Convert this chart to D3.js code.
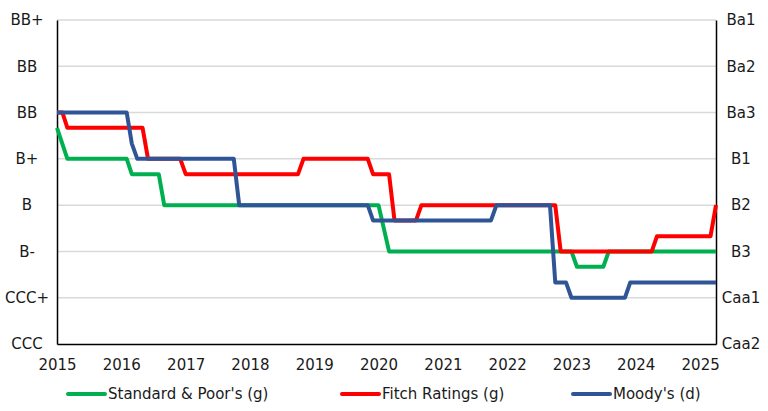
<!DOCTYPE html>
<html>
<head>
<meta charset="utf-8">
<script src="https://cdn.jsdelivr.net/npm/d3@7"></script>
<style>
  body { margin: 0; background: #fff; }
  svg text { font-family: 'DejaVu Sans', sans-serif; font-size: 15px; fill: #1a1a1a; }
</style>
</head>
<body>
<svg id="chart" width="768" height="411"></svg>
<script>
// rating notches, 0 = lowest
var leftLabels = ['CCC', 'CCC+', 'B-', 'B', 'B+', 'BB', 'BB', 'BB+']
var rightLabels = ['Caa2', 'Caa1', 'B3', 'B2', 'B1', 'Ba3', 'Ba2', 'Ba1']
var yearTicks = [2015, 2016, 2017, 2018, 2019, 2020, 2021, 2022, 2023, 2024, 2025]

// breakpoints of each series (month, notch)
var spDates = ['2015-01', '2015-03', '2016-02', '2016-03', '2016-08', '2016-09', '2020-01', '2020-03', '2023-01', '2023-02', '2023-07', '2023-08', '2025-04']
var spValues = [4.67, 4, 4, 3.67, 3.67, 3, 3, 2, 2, 1.67, 1.67, 2, 2]

var fitchDates = ['2015-01', '2015-02', '2015-03', '2016-05', '2016-06', '2016-12', '2017-01', '2018-10', '2018-11', '2019-11', '2019-12', '2020-03', '2020-04', '2020-08', '2020-09', '2022-10', '2022-11', '2024-04', '2024-05', '2025-03', '2025-04']
var fitchValues = [5, 5, 4.67, 4.67, 4, 4, 3.67, 3.67, 4, 4, 3.67, 3.67, 2.67, 2.67, 3, 3, 2, 2, 2.33, 2.33, 3]

var moodysDates = ['2015-01', '2016-02', '2016-03', '2016-04', '2017-10', '2017-11', '2019-11', '2019-12', '2021-10', '2021-11', '2022-09', '2022-10', '2022-12', '2023-01', '2023-11', '2023-12', '2025-04']
var moodysValues = [5, 5, 4.33, 4, 4, 3, 3, 2.67, 2.67, 3, 3, 1.33, 1.33, 1, 1, 1.33, 1.33]

var seriesNames = ["Standard & Poor's (g)", 'Fitch Ratings (g)', "Moody's (d)"]

var green = '#00b050', red = '#ff0000', blue = '#2f5597'

var parse = d3.timeParse('%Y-%m')
function pairs(dates, values) {
    return dates.map((d, i) => ({ date: parse(d), value: values[i] }))
}

var series = [
    { name: seriesNames[0], color: green, data: pairs(spDates, spValues) },
    { name: seriesNames[1], color: red, data: pairs(fitchDates, fitchValues) },
    { name: seriesNames[2], color: blue, data: pairs(moodysDates, moodysValues) }
]

var plotLeft = 57, plotRight = 716, plotTop = 20, plotBottom = 344

var svg = d3.select('#chart')

var xScale = d3.scaleTime().domain([parse('2015-01'), parse('2025-04')]).range([plotLeft, plotRight])
var yScale = d3.scaleLinear().domain([0, 7]).range([plotBottom, plotTop])

// grid
svg.append('g').selectAll('line')
    .data(d3.range(1, 8))
    .enter()
    .append('line')
    .attr('x1', plotLeft).attr('x2', plotRight)
    .attr('y1', d => yScale(d)).attr('y2', d => yScale(d))
    .style('stroke', '#d9d9d9')
    .style('stroke-width', 1.5)

// y axes
var yLeft = d3.axisLeft(yScale).tickValues(d3.range(8)).tickFormat(d => leftLabels[d]).tickSize(0)
var gl = svg.append('g').attr('transform', 'translate(' + plotLeft + ',0)').call(yLeft)
gl.attr('font-family', null).attr('font-size', null)
gl.select('.domain').style('stroke', '#000').style('stroke-width', 1.5)
gl.selectAll('text').attr('x', -30).attr('text-anchor', 'middle')

var yRight = d3.axisRight(yScale).tickValues(d3.range(8)).tickFormat(d => rightLabels[d]).tickSize(0)
var gr = svg.append('g').attr('transform', 'translate(' + plotRight + ',0)').call(yRight)
gr.attr('font-family', null).attr('font-size', null)
gr.select('.domain').style('stroke', '#000').style('stroke-width', 1.5)
gr.selectAll('text').attr('x', 25).attr('text-anchor', 'middle')

// x axis
var xAxis = d3.axisBottom(xScale)
    .tickValues(yearTicks.map(y => new Date(y, 0, 1)))
    .tickFormat(d3.timeFormat('%Y'))
    .tickSize(0)
    .tickPadding(15)
var gx = svg.append('g').attr('transform', 'translate(0,' + plotBottom + ')').call(xAxis)
gx.attr('font-family', null).attr('font-size', null)
gx.select('.domain').style('stroke', '#000').style('stroke-width', 1.5)

// lines
var line = d3.line().x(d => xScale(d.date)).y(d => yScale(d.value))
svg.append('g').selectAll('path')
    .data(series)
    .enter()
    .append('path')
    .attr('d', d => line(d.data))
    .style('fill', 'none')
    .style('stroke', d => d.color)
    .style('stroke-width', 4)
    .style('stroke-linejoin', 'round')

// legend
var legendX = [68, 342, 573]
var lg = svg.append('g').selectAll('g')
    .data(series)
    .enter()
    .append('g')
    .attr('transform', (d, i) => 'translate(' + legendX[i] + ',394)')
lg.append('line')
    .attr('x1', 0).attr('x2', 37)
    .style('stroke', d => d.color)
    .style('stroke-width', 4)
    .style('stroke-linecap', 'round')
lg.append('text')
    .attr('x', 40)
    .attr('dy', '0.35em')
    .text(d => d.name)
</script>
</body>
</html>
